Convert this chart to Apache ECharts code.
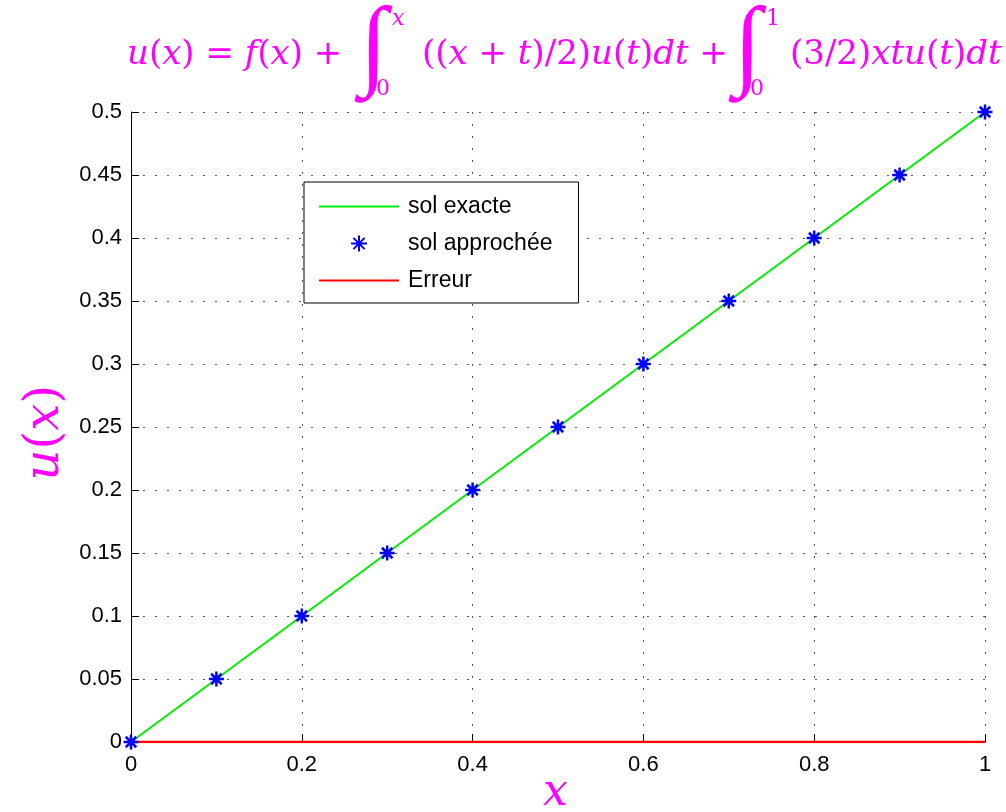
<!DOCTYPE html>
<html>
<head>
<meta charset="utf-8">
<script src="https://cdn.jsdelivr.net/npm/echarts@6/dist/echarts.min.js"></script>
<style>
  html, body { margin: 0; padding: 0; background: #fff; }
  #chart { width: 1006px; height: 812px; }
</style>
</head>
<body>
<div id="chart"></div>
<script>
const xValues = [0, 0.1, 0.2, 0.3, 0.4, 0.5, 0.6, 0.7, 0.8, 0.9, 1];
const exactValues = [0, 0.05, 0.1, 0.15, 0.2, 0.25, 0.3, 0.35, 0.4, 0.45, 0.5];
const approxValues = [0, 0.05, 0.1, 0.15, 0.2, 0.25, 0.3, 0.35, 0.4, 0.45, 0.5];
const errorValues = [0, 0, 0, 0, 0, 0, 0, 0, 0, 0, 0];

const seriesNames = ['sol exacte', 'sol approchée', 'Erreur'];

const magenta = '#ff00ff';
const mathFont = '"DejaVu Serif", "Liberation Serif", serif';
const tickFont = '"Liberation Sans", Arial, sans-serif';

const pairs = ys => xValues.map((x, i) => [x, ys[i]]);

const asterisk = 'path://M0,-10L0,10M-10,0L10,0M-7,-7L7,7M-7,7L7,-7';

// rich text styles for the math title
const mathRich = {
  i: { fontFamily: mathFont, fontStyle: 'italic', fontSize: 34, fill: magenta },
  n: { fontFamily: mathFont, fontSize: 34, fill: magenta }
};
const mathText = (x, y, txt) => ({
  type: 'text', left: x, top: y,
  style: { text: txt, rich: mathRich, fill: magenta, font: '34px ' + mathFont }
});
const small = (x, y, txt, italic) => ({
  type: 'text', left: x, top: y, z: 10,
  style: { text: txt, font: (italic ? 'italic ' : '') + '22px ' + mathFont, fill: magenta }
});
const integral = x => ({
  type: 'text', left: x, top: 0,
  style: { text: '∫', font: '100px "Liberation Serif", serif', fill: magenta }
});

const chart = echarts.init(document.getElementById('chart'));

chart.setOption({
  animation: false,
  backgroundColor: '#fff',
  grid: { left: 131, right: 21, top: 112, bottom: 70 },
  legend: {
    orient: 'vertical',
    left: 304, top: 182,
    padding: [13, 26, 11, 14],
    backgroundColor: '#fff',
    borderColor: '#000', borderWidth: 1,
    borderRadius: 0,
    itemWidth: 80, itemHeight: 16,
    itemGap: 14,
    textStyle: { fontFamily: tickFont, fontSize: 23, color: '#000', padding: [0, 0, 0, 4] },
    data: [
      { name: seriesNames[0], itemStyle: { opacity: 0 } },
      { name: seriesNames[1] },
      { name: seriesNames[2], itemStyle: { opacity: 0 } }
    ]
  },
  xAxis: {
    type: 'value', min: 0, max: 1, interval: 0.2,
    axisLine: { show: true, lineStyle: { color: '#000', width: 1 } },
    axisTick: { show: true, inside: true, length: 8, lineStyle: { color: '#000' } },
    axisLabel: { color: '#000', fontFamily: tickFont, fontSize: 22, margin: 12,
      formatter: v => String(+v.toFixed(2)) },
    splitLine: { show: true, lineStyle: { color: '#555', type: [2, 10], width: 1 } }
  },
  yAxis: {
    type: 'value', min: 0, max: 0.5, interval: 0.05,
    axisLine: { show: true, lineStyle: { color: '#000', width: 1 } },
    axisTick: { show: true, inside: true, length: 8, lineStyle: { color: '#000' } },
    axisLabel: { color: '#000', fontFamily: tickFont, fontSize: 22, margin: 9,
      formatter: v => String(+v.toFixed(2)) },
    splitLine: { show: true, lineStyle: { color: '#555', type: [2, 10], width: 1 } }
  },
  series: [
    {
      name: seriesNames[0], type: 'line', data: pairs(exactValues),
      symbol: 'none', lineStyle: { color: '#00ee00', width: 2 }, itemStyle: { color: '#00ee00' }, z: 2
    },
    {
      name: seriesNames[1], type: 'scatter', data: pairs(approxValues),
      symbol: asterisk, symbolSize: 15,
      itemStyle: { color: '#0000ff', borderColor: '#0000ff', borderWidth: 2.5, opacity: 1 }, z: 4
    },
    {
      name: seriesNames[2], type: 'line', data: pairs(errorValues),
      symbol: 'none', lineStyle: { color: '#ff0000', width: 2.5 }, itemStyle: { color: '#ff0000' }, z: 3
    }
  ],
  graphic: [
    // title: u(x) = f(x) + ∫_0^x ((x+t)/2)u(t)dt + ∫_0^1 (3/2)xtu(t)dt
    mathText(127, 38, '{i|u}{n|(}{i|x}{n|) = }{i|f}{n|(}{i|x}{n|) +}'),
    integral(360),
    small(392, 8, 'x', true),
    small(376, 78, '0'),
    mathText(422, 38, '{n|((}{i|x}{n| + }{i|t}{n|)/2)}{i|u}{n|(}{i|t}{n|)}{i|dt}{n| +}'),
    integral(734),
    small(766, 8, '1'),
    small(750, 78, '0'),
    mathText(790, 38, '{n|(3/2)}{i|xtu}{n|(}{i|t}{n|)}{i|dt}'),
    // axis names
    {
      type: 'text', left: 22, top: 385, rotation: Math.PI / 2,
      style: { text: '{i|u}{n|(}{i|x}{n|)}', rich: {
        i: { fontFamily: mathFont, fontStyle: 'italic', fontSize: 48, fill: magenta },
        n: { fontFamily: mathFont, fontSize: 48, fill: magenta } } }
    },
    { type: 'text', left: 543, top: 772, style: { text: 'x', font: 'italic 44px ' + mathFont, fill: magenta } }
  ]
});
</script>
</body>
</html>
